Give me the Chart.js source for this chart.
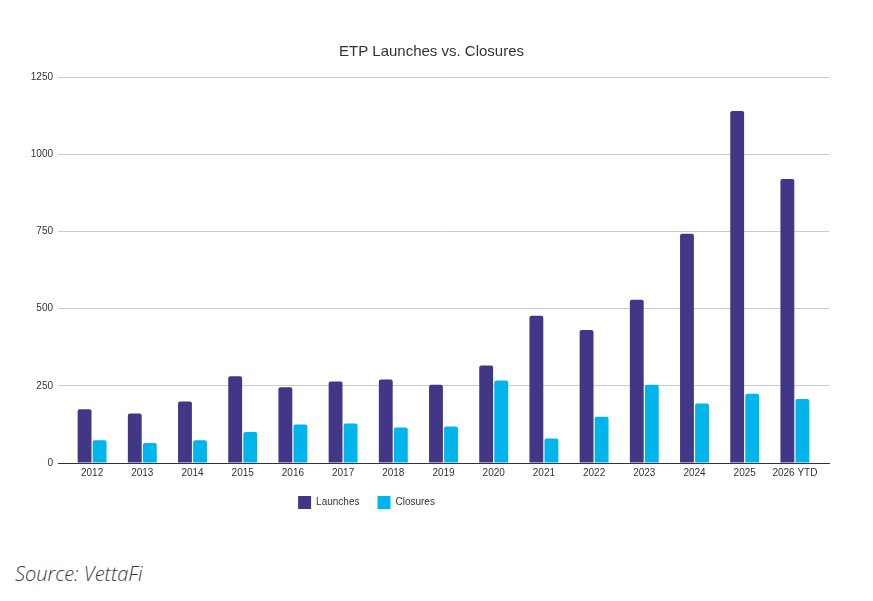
<!DOCTYPE html>
<html>
<head>
<meta charset="utf-8">
<script src="https://cdn.jsdelivr.net/npm/chart.js@4.4.1/dist/chart.umd.min.js"></script>
<style>
  html, body { margin: 0; padding: 0; background: #fff; }
  #wrap { position: relative; width: 873px; height: 601px; }
  #box { position: absolute; left: 0; top: 0; width: 873px; height: 534px; }
  #fuente { position: absolute; left: 15px; top: 560px; font-family: "Open Sans", sans-serif; font-style: italic; font-weight: 300; font-size: 20px; color: #3a3a3a; }
</style>
</head>
<body>
<div id="wrap">
  <div id="box"><canvas id="myChart"></canvas></div>
  <div id="fuente">Source: VettaFi</div>
</div>
<script>
// datos
const anios = ["2012", "2013", "2014", "2015", "2016", "2017", "2018", "2019", "2020", "2021", "2022", "2023", "2024", "2025", "2026 YTD"];
const lanzamientos = [174, 160, 199, 281, 245, 264, 270, 253, 316, 477, 431, 529, 742, 1140, 920];
const cierres = [74, 65, 74, 100, 125, 128, 115, 118, 267, 79, 150, 253, 193, 224, 207];
const ticksY = [0, 250, 500, 750, 1000, 1250];

// ajustes de posicion: titulo, leyenda corrida a la izquierda y margen interno del eje x
const ajustes = {
    id: "ajustes",
    afterLayout(chart) {
        const tit = chart.titleBlock;
        tit.left += 7;
        tit.right += 7;
        const ley = chart.legend;
        ley.left -= 58;
        ley.right -= 58;
        ley.top -= 5;
        ley.bottom -= 5;
        const x = chart.scales.x;
        x._startPixel += 9;
        x._endPixel -= 9;
        x._length -= 18;
    }
};

const grafica = document.getElementById("myChart").getContext("2d");
const myChart = new Chart(grafica, {
    type: "bar",
    data: {
        labels: anios,
        datasets: [
            {
                label: "Launches",
                data: lanzamientos,
                backgroundColor: "#413786",
                borderRadius: { topLeft: 2, topRight: 2 },
                borderSkipped: "bottom",
                categoryPercentage: 0.6,
                barPercentage: 0.92
            },
            {
                label: "Closures",
                data: cierres,
                backgroundColor: "#00b4ec",
                borderRadius: { topLeft: 2, topRight: 2 },
                borderSkipped: "bottom",
                categoryPercentage: 0.6,
                barPercentage: 0.92
            }
        ]
    },
    options: {
        responsive: true,
        maintainAspectRatio: false,
        animation: false,
        layout: { padding: { left: 20, right: 44, top: 43, bottom: 10 } },
        plugins: {
            title: {
                display: true,
                text: "ETP Launches vs. Closures",
                color: "#333",
                font: { family: "Liberation Sans", size: 15, weight: "normal" },
                padding: { top: 0, bottom: 16 }
            },
            legend: {
                position: "bottom",
                labels: {
                    boxWidth: 13,
                    boxHeight: 13,
                    padding: 18,
                    color: "#333",
                    font: { family: "Liberation Sans", size: 10 }
                }
            },
            tooltip: { enabled: false }
        },
        scales: {
            x: {
                grid: { display: false, drawTicks: false },
                border: { display: true, color: "#333", width: 1 },
                ticks: {
                    color: "#333",
                    padding: 4,
                    maxRotation: 0,
                    autoSkip: false,
                    font: { family: "Liberation Sans", size: 10 }
                }
            },
            y: {
                min: 0,
                max: 1250,
                afterBuildTicks(scale) {
                    scale.ticks = ticksY.map((v) => ({ value: v }));
                },
                afterFit(scale) {
                    scale.width = 38;
                },
                grid: { color: "#cccccc", drawTicks: false },
                border: { display: false },
                ticks: {
                    color: "#333",
                    padding: 5,
                    font: { family: "Liberation Sans", size: 10 },
                    callback: (v) => String(v)
                }
            }
        }
    },
    plugins: [ajustes]
});
</script>
</body>
</html>
